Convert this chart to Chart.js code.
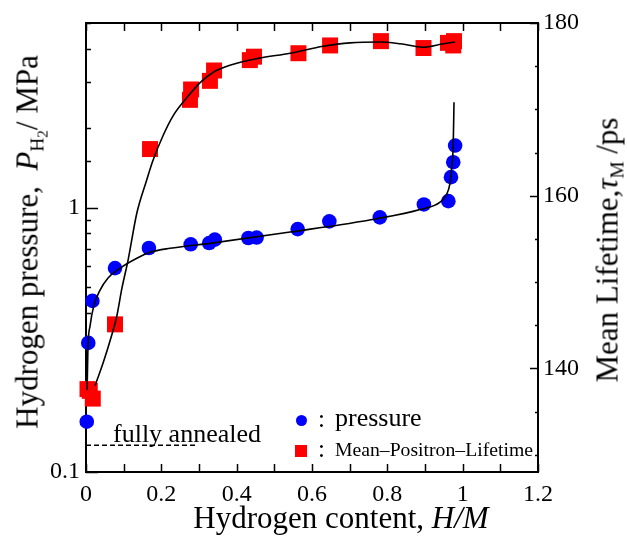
<!DOCTYPE html>
<html>
<head>
<meta charset="utf-8">
<script src="https://cdn.jsdelivr.net/npm/chart.js@4.4.1/dist/chart.umd.min.js"></script>
<style>
  body { margin: 0; background: #ffffff; }
  #wrap { position: relative; width: 627px; height: 538px; font-family: "Liberation Serif", serif; color: #000; }
  .lbl { position: absolute; white-space: nowrap; line-height: 1; }
  .lbl sub { font-size: 0.62em; vertical-align: baseline; position: relative; top: 0.3em; }
  .lbl sub sub { font-size: 0.8em; }
  .mark { position: absolute; }
</style>
</head>
<body>
<div id="wrap">
  <canvas id="hydrogenChart" width="627" height="538"></canvas>
  <div class="lbl" style="left:341px;top:517px;font-size:31px;transform:translate(-50%,-50%);">Hydrogen content, <i>H/M</i></div>
  <div class="lbl" style="left:27px;top:242px;font-size:31px;transform:translate(-50%,-50%) rotate(-90deg);">Hydrogen pressure,&nbsp; <i>P</i><sub>H<sub>2</sub></sub>/ MPa</div>
  <div class="lbl" style="left:607px;top:250px;font-size:31px;transform:translate(-50%,-50%) rotate(-90deg);">Mean Lifetime,<i>τ</i><sub>M</sub> /ps</div>
  <div class="lbl" style="left:113px;top:421px;font-size:26px;">fully annealed</div>
  <div class="mark" style="left:295.5px;top:414.5px;width:11px;height:11px;border-radius:50%;background:#0000ff;"></div>
  <div class="mark" style="left:295px;top:445px;width:12px;height:12px;background:#ff0000;"></div>
  <div class="lbl" style="left:318px;top:406px;font-size:25px;">:</div>
  <div class="lbl" style="left:335px;top:405px;font-size:26px;">pressure</div>
  <div class="lbl" style="left:318px;top:436px;font-size:25px;">:</div>
  <div class="lbl" style="left:335px;top:440px;font-size:19.7px;">Mean–Positron–Lifetime</div>
</div>
<script>
// measured points
let pressureH = [0.002, 0.006, 0.017, 0.077, 0.167, 0.278, 0.327, 0.342, 0.431, 0.453, 0.562, 0.646, 0.780, 0.897, 0.962, 0.969, 0.975, 0.980];
let pressureMPa = [0.155, 0.308, 0.444, 0.591, 0.704, 0.727, 0.735, 0.757, 0.768, 0.771, 0.830, 0.888, 0.919, 1.029, 1.059, 1.305, 1.487, 1.719];

let lifetimeH = [0.004, 0.010, 0.018, 0.077, 0.170, 0.276, 0.279, 0.329, 0.340, 0.435, 0.446, 0.564, 0.648, 0.783, 0.896, 0.961, 0.977, 0.975];
let lifetimePs = [137.6, 137.4, 136.5, 145.1, 165.4, 171.1, 172.3, 173.3, 174.5, 175.7, 176.1, 176.5, 177.4, 177.9, 177.1, 177.7, 177.9, 177.4];

// fitted curves
let pressureFitH = [0.003, 0.005, 0.011, 0.021, 0.037, 0.058, 0.090, 0.135, 0.170, 0.223, 0.329, 0.542, 0.772, 0.887, 0.940, 0.958, 0.966, 0.971, 0.975, 0.977];
let pressureFitP = [0.204, 0.289, 0.359, 0.427, 0.487, 0.541, 0.590, 0.644, 0.678, 0.702, 0.733, 0.809, 0.909, 0.985, 1.050, 1.129, 1.232, 1.423, 1.745, 2.506];

let lifetimeFitH = [0.024, 0.046, 0.068, 0.082, 0.095, 0.112, 0.135, 0.161, 0.177, 0.205, 0.232, 0.263, 0.303, 0.338, 0.382, 0.457, 0.542, 0.630, 0.701, 0.780, 0.834, 0.895, 0.949, 0.980];
let lifetimeFitPs = [138.0, 140.7, 143.8, 146.1, 149.2, 152.6, 158.0, 161.8, 164.0, 167.0, 169.3, 171.1, 173.1, 174.3, 175.1, 175.9, 176.5, 177.3, 177.7, 177.8, 177.6, 177.2, 177.6, 177.8];

// fully annealed reference level
let annealedH = [0, 0.294];
let annealedPs = [131.1, 131.1];

function toPoints(xs, ys) {
  return xs.map((x, i) => ({ x: x, y: ys[i] }));
}

Chart.defaults.font.family = "'Liberation Serif', serif";
Chart.defaults.font.size = 24;
Chart.defaults.color = "#000000";

// box + inward tick marks
const frameTicks = {
  id: "frameTicks",
  beforeDatasetsDraw(chart) {
    const ctx = chart.ctx;
    const a = chart.chartArea;
    const sx = chart.scales.x, sy = chart.scales.y, sy2 = chart.scales.y2;
    ctx.save();
    ctx.strokeStyle = "#000";
    ctx.lineWidth = 1.5;
    ctx.beginPath();
    sx.ticks.forEach((t) => {
      const px = Math.round(sx.getPixelForValue(t.value)) + 0.5;
      ctx.moveTo(px, a.bottom); ctx.lineTo(px, a.bottom - 8);
      ctx.moveTo(px, a.top); ctx.lineTo(px, a.top + 8);
    });
    sy.ticks.forEach((t) => {
      const py = Math.round(sy.getPixelForValue(t.value)) + 0.5;
      const len = t.label !== "" ? 12 : 5;
      ctx.moveTo(a.left, py); ctx.lineTo(a.left + len, py);
    });
    sy2.ticks.forEach((t) => {
      const py = Math.round(sy2.getPixelForValue(t.value)) + 0.5;
      const len = t.label !== "" ? 8 : 3;
      ctx.moveTo(a.right, py); ctx.lineTo(a.right - len, py);
    });
    ctx.stroke();
    ctx.lineWidth = 2;
    ctx.strokeRect(a.left, a.top, a.right - a.left, a.bottom - a.top);
    ctx.restore();
  },
};

let canvasElement = document.getElementById("hydrogenChart");

let myChart = new Chart(canvasElement, {
  type: "scatter",
  data: {
    datasets: [
      {
        label: "pressure fit",
        data: toPoints(pressureFitH, pressureFitP),
        yAxisID: "y",
        showLine: true,
        borderColor: "#000000",
        borderWidth: 1.6,
        pointRadius: 0,
        cubicInterpolationMode: "monotone",
        clip: false,
      },
      {
        label: "lifetime fit",
        data: toPoints(lifetimeFitH, lifetimeFitPs),
        yAxisID: "y2",
        showLine: true,
        borderColor: "#000000",
        borderWidth: 1.6,
        pointRadius: 0,
        cubicInterpolationMode: "monotone",
        clip: false,
      },
      {
        label: "fully annealed",
        data: toPoints(annealedH, annealedPs),
        yAxisID: "y2",
        showLine: true,
        borderColor: "#000000",
        borderWidth: 1.3,
        borderDash: [5, 3],
        pointRadius: 0,
      },
      {
        label: "pressure",
        data: toPoints(pressureH, pressureMPa),
        yAxisID: "y",
        backgroundColor: "#0000ff",
        borderWidth: 0,
        pointRadius: 7.3,
        pointStyle: "circle",
        clip: false,
      },
      {
        label: "Mean-Positron-Lifetime",
        data: toPoints(lifetimeH, lifetimePs),
        yAxisID: "y2",
        backgroundColor: "#ff0000",
        borderWidth: 0,
        pointRadius: 11.3,
        pointStyle: "rect",
        clip: false,
      },
    ],
  },
  options: {
    responsive: false,
    animation: false,
    events: [],
    layout: { padding: { top: 23, left: 0, right: 0, bottom: 0 } },
    plugins: { legend: { display: false }, tooltip: { enabled: false } },
    scales: {
      x: {
        type: "linear",
        position: "bottom",
        min: 0,
        max: 1.2,
        grid: { display: false, drawTicks: false },
        border: { display: false },
        ticks: {
          stepSize: 0.1,
          autoSkip: false,
          maxRotation: 0,
          padding: 8,
          callback: (v) => {
            const r = Math.round(v * 10);
            return r % 2 === 0 ? String(r / 10) : "";
          },
        },
        afterFit: (s) => { s.height = 66; },
      },
      y: {
        type: "logarithmic",
        position: "left",
        min: 0.1,
        max: 5,
        grid: { display: false, drawTicks: false },
        border: { display: false },
        ticks: {
          autoSkip: false,
          padding: 6,
          callback: (v) => {
            if (Math.abs(v - 0.1) < 1e-9) return "0.1";
            if (Math.abs(v - 1) < 1e-9) return "1";
            return "";
          },
        },
        afterFit: (s) => { s.width = 86; },
      },
      y2: {
        type: "linear",
        position: "right",
        min: 128,
        max: 180,
        grid: { display: false, drawTicks: false },
        border: { display: false },
        ticks: {
          stepSize: 5,
          includeBounds: false,
          autoSkip: false,
          padding: 5,
          callback: (v) => (v % 20 === 0 ? String(v) : ""),
        },
        afterFit: (s) => { s.width = 89; },
      },
    },
  },
  plugins: [frameTicks],
});
</script>
</body>
</html>
